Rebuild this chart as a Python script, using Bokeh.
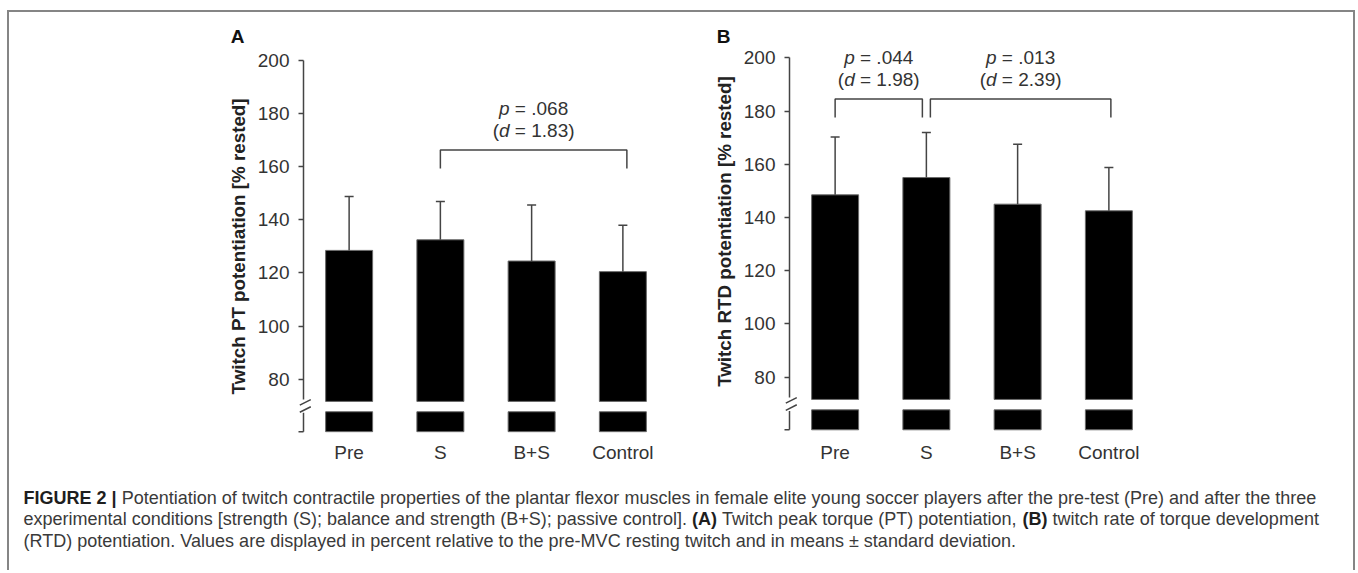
import math
from bokeh.plotting import figure
from bokeh.layouts import row, column
from bokeh.models import Range1d, FixedTicker
from bokeh.core.properties import value
from bokeh.embed import file_html
from bokeh.resources import INLINE

# ---------------- data ----------------
categories = ["Pre", "S", "B+S", "Control"]
pt_mean = [128.5, 132.5, 124.5, 120.5]
pt_sd = [20.3, 14.4, 21.1, 17.5]
rtd_mean = [148.5, 155.0, 145.0, 142.5]
rtd_sd = [21.7, 16.9, 22.5, 16.3]
y_ticks = [80, 100, 120, 140, 160, 180, 200]
pt_comparisons = [("S", "Control", ".068", "1.83")]
rtd_comparisons = [("Pre", "S", ".044", "1.98"), ("S", "Control", ".013", "2.39")]
panel_letters = ["A", "B"]
y_titles = ["Twitch PT potentiation [% rested]", "Twitch RTD potentiation [% rested]"]
caption_lines = [
    [("FIGURE 2 | ", "bold"),
     ("Potentiation of twitch contractile properties of the plantar flexor muscles in female elite young "
      "soccer players after the pre-test (Pre) and after the three", "normal")],
    [("experimental conditions [strength (S); balance and strength (B+S); passive control]. ", "normal"),
     ("(A)", "bold"), (" Twitch peak torque (PT) potentiation, ", "normal"),
     ("(B)", "bold"), (" twitch rate of torque development", "normal")],
    [("(RTD) potentiation. Values are displayed in percent relative to the pre-MVC resting twitch and in "
      "means \u00b1 standard deviation.", "normal")],
]

# ---------------- styling / layout ----------------
FONT = "Liberation Sans"
FS = 19
TXT = "#333333"
LN = "#444444"
PX_PER_X = 365 / 4.0
LEFT_PAD = 81          # px of frame to the left of the y axis
BAR_W = 0.515
BAR_BASE = 71.6
STUB_TOP, STUB_BOTTOM = 67.7, 60.2
AXIS_BREAK = 72.5

REG = {' ': 278, '!': 278, '"': 355, '%': 889, '&': 667, "'": 191, '(': 333, ')': 333, '*': 389,
       '+': 584, ',': 278, '-': 333, '.': 278, '/': 278, ':': 278, ';': 278, '=': 584, '?': 556,
       'A': 667, 'B': 667, 'C': 722, 'D': 722, 'E': 667, 'F': 611, 'G': 778, 'H': 722, 'I': 278,
       'J': 500, 'K': 667, 'L': 556, 'M': 833, 'N': 722, 'O': 778, 'P': 667, 'Q': 778, 'R': 722,
       'S': 667, 'T': 611, 'U': 722, 'V': 667, 'W': 944, 'X': 667, 'Y': 667, 'Z': 611, '[': 278,
       ']': 278, 'a': 556, 'b': 556, 'c': 500, 'd': 556, 'e': 556, 'f': 278, 'g': 556, 'h': 556,
       'i': 222, 'j': 222, 'k': 500, 'l': 222, 'm': 833, 'n': 556, 'o': 556, 'p': 556, 'q': 556,
       'r': 333, 's': 500, 't': 278, 'u': 556, 'v': 500, 'w': 722, 'x': 500, 'y': 500, 'z': 500,
       '|': 260, '\u00b1': 584}
BOLD = {' ': 278, '(': 333, ')': 333, '|': 280, 'A': 722, 'B': 722, 'C': 722, 'D': 722, 'E': 667,
        'F': 611, 'G': 778, 'I': 278, 'P': 667, 'R': 722, 'T': 611, 'U': 722}


def text_w(s, style):
    tab = BOLD if style == "bold" else REG
    return sum(tab.get(c, 556) for c in s) / 1000.0


def draw_parts(p, x, y, parts, fs, start_off, colors=None):
    """Draw styled text runs one after another; leading blanks become an offset (SVG strips them)."""
    off = start_off
    for t, st in parts:
        stripped = t.lstrip(" ")
        lead = (len(t) - len(stripped)) * REG[' '] / 1000.0 * fs
        col = (colors or {}).get(st, TXT)
        if stripped.strip():
            p.text(x=[x], y=[y], text=[stripped], x_offset=off + lead, text_align="left",
                   text_baseline="middle", text_font=value(FONT), text_font_size=f"{fs}px",
                   text_font_style=st, text_color=col)
        off += text_w(t, st) * fs
    return off


def rich_text(p, x, y, parts, fs):
    total = sum(text_w(t, st) for t, st in parts) * fs
    draw_parts(p, x, y, parts, fs, -total / 2.0)


def make_panel(means, sds, comps, offsets, letter, ytitle, y_lo, y_hi, b_left, b_right,
               bracket_y, letter_y, title_y):
    x_start = 0.5 - LEFT_PAD / PX_PER_X
    p = figure(frame_width=365 + LEFT_PAD, frame_height=414, x_range=Range1d(x_start, 4.5),
               y_range=Range1d(y_lo, y_hi), output_backend="svg", toolbar_location=None,
               min_border_left=b_left, min_border_right=b_right, min_border_top=11,
               min_border_bottom=33)
    p.grid.visible = False
    p.outline_line_color = None
    x = [i + 1 for i in range(len(categories))]
    tops = [m + s for m, s in zip(means, sds)]
    p.vbar(x=x, width=BAR_W, bottom=BAR_BASE, top=means, fill_color="black",
           line_color="#6a6a6a", line_width=1)
    p.vbar(x=x, width=BAR_W, bottom=STUB_BOTTOM, top=STUB_TOP, fill_color="black",
           line_color="#6a6a6a", line_width=1)
    cap = 4.5 / PX_PER_X
    p.segment(x0=x, y0=means, x1=x, y1=tops, line_color=LN, line_width=1.5)
    p.segment(x0=[v - cap for v in x], y0=tops, x1=[v + cap for v in x], y1=tops,
              line_color=LN, line_width=1.5)

    # significance brackets
    for (a, b, pv, dv), (ol, orr) in zip(comps, offsets):
        xl = categories.index(a) + 1 + ol / PX_PER_X
        xr = categories.index(b) + 1 + orr / PX_PER_X
        p.multi_line(xs=[[xl, xl, xr, xr]],
                     ys=[[bracket_y - 6.9, bracket_y, bracket_y, bracket_y - 6.9]],
                     line_color=LN, line_width=1.5)
        xm = (xl + xr) / 2.0
        rich_text(p, xm, bracket_y + 15.5, [("p", "italic"), (" = " + pv, "normal")], FS)
        rich_text(p, xm, bracket_y + 7.4,
                  [("(", "normal"), ("d", "italic"), (" = " + dv + ")", "normal")], FS)

    # x axis (category labels)
    xa = p.xaxis[0]
    xa.ticker = FixedTicker(ticks=x)
    xa.major_label_overrides = {v: c for v, c in zip(x, categories)}
    xa.axis_line_color = None
    xa.major_tick_line_color = None
    xa.minor_tick_line_color = None
    xa.major_label_standoff = -2
    xa.major_label_text_font = FONT
    xa.major_label_text_font_size = f"{FS}px"
    xa.major_label_text_color = TXT

    # y axis, fixed at x = 0.5 (left edge of the bar area)
    ya = p.yaxis[0]
    ya.fixed_location = 0.5
    ya.ticker = FixedTicker(ticks=y_ticks)
    ya.bounds = (AXIS_BREAK, 200)
    ya.axis_line_color = LN
    ya.axis_line_width = 1.5
    ya.major_tick_line_color = LN
    ya.major_tick_line_width = 1.5
    ya.major_tick_out = 5
    ya.major_tick_in = 0
    ya.minor_tick_line_color = None
    ya.major_label_standoff = 9
    ya.major_label_text_font = FONT
    ya.major_label_text_font_size = f"{FS}px"
    ya.major_label_text_color = TXT

    # broken-axis marks
    x0 = 0.5
    tick = 5 / PX_PER_X
    p.segment(x0=[x0, x0 - tick, x0 - 3.7 / PX_PER_X, x0 - 3.7 / PX_PER_X],
              y0=[STUB_BOTTOM, STUB_BOTTOM, 70.2, 67.5],
              x1=[x0, x0, x0 + 7.3 / PX_PER_X, x0 + 7.3 / PX_PER_X],
              y1=[67.3, STUB_BOTTOM, 72.3, 69.6],
              line_color=LN, line_width=1.5)

    # axis title (rotated) and panel letter
    p.text(x=[0.5 - 65.5 / PX_PER_X], y=[title_y], text=[ytitle], angle=math.pi / 2,
           text_align="center", text_baseline="middle", text_font=value(FONT),
           text_font_style="bold", text_font_size="18.8px", text_color="#222222")
    p.text(x=[0.5 - 66 / PX_PER_X], y=[letter_y], text=[letter], text_align="center",
           text_baseline="middle", text_font=value(FONT), text_font_style="bold",
           text_font_size=f"{FS}px", text_color="#111111")
    return p


fa = make_panel(pt_mean, pt_sd, pt_comparisons, [(0, 4)], panel_letters[0], y_titles[0],
                58, 214, 213, 20, 166.3, 209.1, 130.0)
fb = make_panel(rtd_mean, rtd_sd, rtd_comparisons, [(0, -4), (4, 2)], panel_letters[1],
                y_titles[1], 57.3, 212.9, 20, 199, 184.5, 208.0, 134.7)

# ---------------- caption ----------------
CAP_W, CAP_H = 1344, 100
cap = figure(width=CAP_W, height=CAP_H, x_range=Range1d(0, CAP_W), y_range=Range1d(CAP_H, 0),
             output_backend="svg", toolbar_location=None, min_border=0,
             x_axis_type=None, y_axis_type=None)
cap.grid.visible = False
cap.outline_line_color = None
line1_em = sum(text_w(t, st) for t, st in caption_lines[0])
cfs = round(1293.0 / line1_em, 2)
line_y = [27, 48.5, 70]
for parts, ly in zip(caption_lines, line_y):
    draw_parts(cap, 14.0, ly, parts, cfs, 0.0, colors={"bold": "#1e1e1e", "normal": "#3a3a3a"})

layout = column(row(fa, fb), cap,
                styles={"border-left": "2px solid #858585", "border-top": "2px solid #858585",
                        "border-right": "2px solid #858585", "margin-top": "10px",
                        "margin-left": "7px", "background": "white"})

open("out.html", "w").write(file_html(layout, INLINE))
